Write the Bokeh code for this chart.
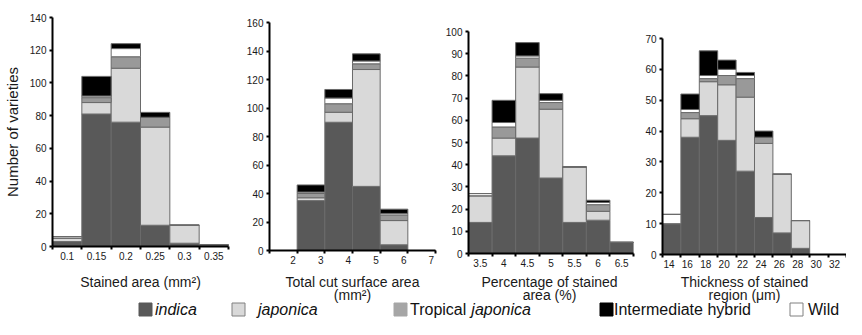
from bokeh.plotting import figure
from bokeh.layouts import column, row
from bokeh.models import Range1d, FixedTicker, ColumnDataSource, CustomJSTickFormatter
from bokeh.embed import file_html
from bokeh.resources import INLINE
from bokeh.core.properties import value

# ---------------- data ----------------
p1_labels = ["0.1", "0.15", "0.2", "0.25", "0.3", "0.35"]
p1_indica = [3, 81, 76, 13, 2, 1]
p1_japonica = [2, 7, 33, 60, 11, 0]
p1_tropical = [0, 3, 7, 6, 0, 0]
p1_wild = [1, 1, 5, 0, 0, 0]
p1_intermediate = [0, 12, 3, 3, 0, 0]

p2_labels = ["2", "3", "4", "5", "6", "7"]
p2_indica = [0, 35, 90, 45, 4, 0]
p2_japonica = [0, 2, 7, 82, 17, 0]
p2_tropical = [0, 3, 6, 4, 4, 0]
p2_wild = [0, 1, 4, 2, 1, 0]
p2_intermediate = [0, 5, 6, 5, 3, 0]

p3_labels = ["3.5", "4", "4.5", "5", "5.5", "6", "6.5"]
p3_indica = [14, 44, 52, 34, 14, 15, 5]
p3_japonica = [12, 8, 32, 31, 25, 4, 0]
p3_tropical = [0, 5, 4, 3, 0, 3, 0]
p3_wild = [1, 2, 1, 1, 0, 1, 0]
p3_intermediate = [0, 10, 6, 3, 0, 1, 0]

p4_labels = ["14", "16", "18", "20", "22", "24", "26", "28", "30", "32"]
p4_indica = [10, 38, 45, 37, 27, 12, 7, 2, 0, 0]
p4_japonica = [0, 6, 11, 18, 24, 24, 19, 9, 0, 0]
p4_tropical = [0, 2, 1, 3, 6, 2, 0, 0, 0, 0]
p4_wild = [3, 1, 1, 2, 1, 0, 0, 0, 0, 0]
p4_intermediate = [0, 5, 8, 3, 1, 2, 0, 0, 0, 0]

x_title_line1 = ["Stained area (mm\u00b2)", "Total cut surface area",
                 "Percentage of stained", "Thickness of stained"]
x_title_line2 = ["", "(mm\u00b2)", "area (%)", "region (\u03bcm)"]
y_title = "Number of varieties"

legend_names = [[("indica", "italic")],
                [("japonica", "italic")],
                [("Tropical ", "normal"), ("japonica", "italic")],
                [("Intermediate hybrid", "normal")],
                [("Wild", "normal")]]

stack_keys = ["indica", "japonica", "tropical", "wild", "intermediate"]
stack_colors = ["#595959", "#d9d9d9", "#999999", "#ffffff", "#000000"]

FONT = "Liberation Sans"
TXT = "#1a1a1a"


def make_panel(labels, series, ymax, ystep, width, height, left, right, top, bottom,
               shift, ytitle=None):
    n = len(labels)
    data = dict(x=[i + 0.5 for i in range(n)])
    for k, s in zip(stack_keys, series):
        data[k] = s
    src = ColumnDataSource(data)
    p = figure(width=width, height=height, min_border_left=left, min_border_right=right,
               min_border_top=top, min_border_bottom=bottom,
               x_range=Range1d(0, n), y_range=Range1d(0, ymax),
               output_backend="svg", toolbar_location=None)
    p.frame_align = False
    p.vbar_stack(stack_keys, x="x", width=1.0, source=src, fill_color=stack_colors,
                 line_color="#6a6a6a", line_width=1)
    p.grid.visible = False
    p.outline_line_color = None
    p.background_fill_color = "white"

    ya = p.yaxis[0]
    ya.ticker = FixedTicker(ticks=list(range(0, ymax + 1, ystep)))
    ya.axis_line_width = 2
    ya.axis_line_color = "black"
    ya.major_tick_out = 3
    ya.major_tick_in = 0
    ya.major_tick_line_width = 2
    ya.minor_tick_line_color = None
    ya.major_label_text_font = FONT
    ya.major_label_text_font_size = "10px"
    ya.major_label_text_color = TXT
    ya.major_label_standoff = 3
    if ytitle:
        ya.axis_label = ytitle
        ya.axis_label_text_font = FONT
        ya.axis_label_text_font_size = "15px"
        ya.axis_label_text_font_style = "normal"
        ya.axis_label_text_color = TXT
        ya.axis_label_standoff = 6

    xa = p.xaxis[0]
    xa.ticker = FixedTicker(ticks=[i + 0.5 + shift for i in range(n)],
                            minor_ticks=list(range(n + 1)))
    xa.formatter = CustomJSTickFormatter(args=dict(labels=labels, shift=shift),
                                         code="const i = Math.round(tick - 0.5 - shift); return labels[i] ?? '';")
    xa.axis_line_width = 2
    xa.axis_line_color = "black"
    xa.major_tick_line_color = None
    xa.major_tick_out = 3
    xa.major_tick_in = 0
    xa.minor_tick_out = 3
    xa.minor_tick_in = 0
    xa.minor_tick_line_width = 2
    xa.minor_tick_line_color = "black"
    xa.major_label_text_font = FONT
    xa.major_label_text_font_size = "10px"
    xa.major_label_text_color = TXT
    xa.major_label_standoff = 2
    return p


PH = 272  # height of the panel row
# frames (page px): p1 52-228 / 17-246, p2 269-435 / 22-250, p3 468-633 / 31-253, p4 662-846 / 38-254
p1 = make_panel(p1_labels, [p1_indica, p1_japonica, p1_tropical, p1_wild, p1_intermediate],
                140, 20, 230, PH, 52, 2, 17, PH - 246, 0.0, ytitle=y_title)
p2 = make_panel(p2_labels, [p2_indica, p2_japonica, p2_tropical, p2_wild, p2_intermediate],
                160, 20, 207, PH, 39, 2, 22, PH - 250, 0.35)
p3 = make_panel(p3_labels, [p3_indica, p3_japonica, p3_tropical, p3_wild, p3_intermediate],
                100, 10, 198, PH, 31, 2, 31, PH - 253, 0.0)
p4 = make_panel(p4_labels, [p4_indica, p4_japonica, p4_tropical, p4_wild, p4_intermediate],
                70, 10, 211, PH, 27, 0, 38, PH - 254, -0.15)

# ---------------- bottom strip: axis titles + legend (page coordinates) ----------------
TOTAL_H = 319
bt = figure(width=846, height=TOTAL_H - PH, x_range=Range1d(0, 846),
            y_range=Range1d(TOTAL_H, PH), output_backend="svg",
            toolbar_location=None, min_border=0)
bt.axis.visible = False
bt.grid.visible = False
bt.outline_line_color = None

title_x = [140, 352, 549, 744]
title_src = ColumnDataSource(dict(x=title_x + title_x, y=[281] * 4 + [294.5] * 4,
                                  text=x_title_line1 + x_title_line2))
bt.text(x="x", y="y", text="text", source=title_src, text_font=value(FONT),
        text_font_size=value("14px"), text_color=TXT, text_align="center",
        text_baseline="middle")

legend_fill = ["#595959", "#d9d9d9", "#a6a6a6", "#000000", "#ffffff"]
legend_line = ["#595959", "#808080", "#a6a6a6", "#000000", "#808080"]
legend_sq_x = [145, 238, 400, 606, 796]
legend_gap = [3, 13, 3, 1, 5]
LEG_Y = 309

ARIAL = {' ': 278, 'T': 611, 'r': 333, 'o': 556, 'p': 556, 'i': 222, 'c': 500, 'a': 556, 'l': 222}
LFS = 16


def text_w(s):
    return sum(ARIAL.get(ch, 556) for ch in s) / 1000.0 * LFS


bt.rect(x=legend_sq_x, y=[LEG_Y] * 5, width=13, height=13, width_units="screen",
        height_units="screen", fill_color=legend_fill, line_color=legend_line, line_width=1)
tx, tt, ts = [], [], []
for sx, gap, parts in zip(legend_sq_x, legend_gap, legend_names):
    cx = sx + 6.5 + gap
    for txt, style in parts:
        tx.append(cx)
        tt.append(txt)
        ts.append(style)
        cx += text_w(txt)
lsrc = ColumnDataSource(dict(x=tx, y=[LEG_Y] * len(tx), text=tt, style=ts))
bt.text(x="x", y="y", text="text", text_font_style="style", source=lsrc,
        text_font=value(FONT), text_font_size=value(f"{LFS}px"), text_color="#111111",
        text_baseline="middle", text_align="left")

layout = column(row(p1, p2, p3, p4, spacing=0), bt, spacing=0)
open("out.html", "w").write(file_html(layout, INLINE))
